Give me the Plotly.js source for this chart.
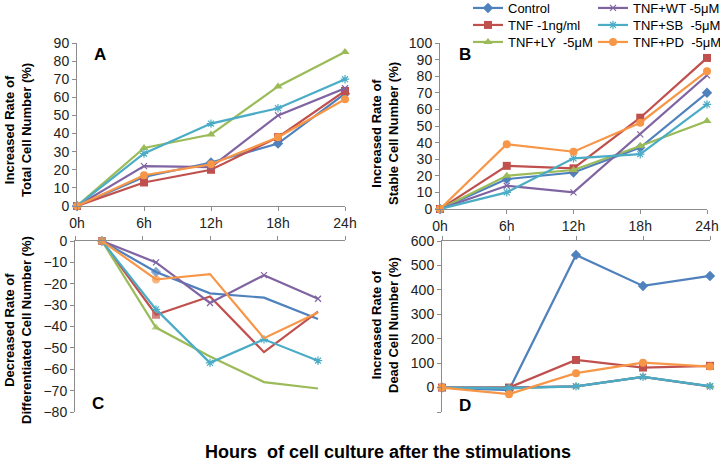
<!DOCTYPE html>
<html>
<head>
<meta charset="utf-8">
<script src="https://cdn.plot.ly/plotly-3.0.1.min.js"></script>
<style>html,body{margin:0;padding:0;background:#fff}#chart{width:720px;height:464px}</style>
</head>
<body>
<div id="chart"></div>
<script>
// ---- data ----
const hours = ['0h', '6h', '12h', '18h', '24h'];
const seriesNames = ['Control', 'TNF -1ng/ml', 'TNF+LY\u00a0\u00a0-5\u03bcM', 'TNF+WT -5\u03bcM', 'TNF+SB\u00a0\u00a0-5\u03bcM', 'TNF+PD\u00a0\u00a0-5\u03bcM'];

// A: increased rate of total cell number (%)
const totalControl = [0, 16, 24, 34.5, 62];
const totalTNF     = [0, 13, 20, 38, 63.5];
const totalLY      = [0, 32, 39.5, 66, 85];
const totalWT      = [0, 22, 21.5, 50, 65];
const totalSB      = [0, 29, 45.5, 54, 70];
const totalPD      = [0, 17, 23, 38, 59];

// B: increased rate of stable cell number (%)
const stableControl = [0, 18, 22, 37, 70];
const stableTNF     = [0, 26, 24.5, 55, 91];
const stableLY      = [0, 20, 23.5, 38, 53];
const stableWT      = [0, 14, 10, 45, 80.5];
const stableSB      = [0, 10, 30.5, 33, 63];
const stablePD      = [0, 39, 34.5, 52, 83];

// C: decreased rate of differentiated cell number (%)
const diffControl = [0, -14.5, -24.5, -26.5, -36.5];
const diffTNF     = [0, -34.5, -26, -52, -33];
const diffLY      = [0, -40.5, -54, -66, -69];
const diffWT      = [0, -10, -29, -16, -27];
const diffSB      = [0, -32, -57, -46, -56];
const diffPD      = [0, -18, -15.5, -45.5, -33.5];

// D: increased rate of dead cell number (%)
const deadControl = [0, -10, 543, 416, 457];
const deadTNF     = [0, 0, 113, 82, 89];
const deadLY      = [0, 0, 5, 44, 5];
const deadWT      = [0, 0, 5, 44, 5];
const deadSB      = [0, -3, 5, 44, 6];
const deadPD      = [0, -27, 59, 102, 86];

// ---- styles ----
const colors = ['#4F81BD', '#C0504D', '#9BBB59', '#8064A2', '#4BACC6', '#F79646'];
const symbols = ['diamond', 'square', 'triangle-up', 'x-thin', 'asterisk', 'circle'];
const sizes = [8, 8, 8, 6, 7, 8];
const legendIds = ['legend', 'legend2', 'legend3', 'legend4', 'legend5', 'legend6'];
const xi = hours.map((h, i) => i);

const panels = [
  {xa: 'x', ya: 'y', data: [totalControl, totalTNF, totalLY, totalWT, totalSB, totalPD], full: true},
  {xa: 'x2', ya: 'y2', data: [stableControl, stableTNF, stableLY, stableWT, stableSB, stablePD], full: true},
  {xa: 'x3', ya: 'y3', data: [diffControl, diffTNF, diffLY, diffWT, diffSB, diffPD], full: false},
  {xa: 'x4', ya: 'y4', data: [deadControl, deadTNF, deadLY, deadWT, deadSB, deadPD], full: true}
];

const traces = [];
panels.forEach((p, pi) => {
  p.data.forEach((vals, si) => {
    const thin = (si === 3 || si === 4);
    let msize = sizes[si];
    if (!p.full && !thin) msize = xi.map(i => (i < 2 ? sizes[si] : 0));
    traces.push({
      type: 'scatter', mode: 'lines+markers',
      x: xi, y: vals, xaxis: p.xa, yaxis: p.ya,
      name: seriesNames[si],
      legend: legendIds[si],
      showlegend: pi === 0,
      cliponaxis: false,
      line: {color: colors[si], width: 2.2},
      marker: {symbol: symbols[si], size: msize, color: colors[si],
               line: {color: colors[si], width: thin ? 1.2 : 0}}
    });
  });
});

const W = 720, H = 464;
const px = v => v / W, py = v => 1 - v / H;
const axisGray = '#8c8c8c';
const tickFont = {family: 'Liberation Sans, Arial, sans-serif', size: 14, color: '#222'};

function yax(domTop, domBot, range, tickvals, ticktext, anchor) {
  const o = {domain: [py(domBot), py(domTop)], range: range, anchor: anchor,
    showgrid: false, zeroline: false, showline: true, linecolor: axisGray, linewidth: 1,
    ticks: 'outside', ticklen: 4, tickcolor: axisGray, tickfont: tickFont,
    tickmode: 'array', tickvals: tickvals, fixedrange: true};
  if (ticktext) o.ticktext = ticktext;
  return o;
}
function xax(l, r, range, tickvals, ticktext, anchor, side) {
  return {domain: [px(l), px(r)], range: range, anchor: anchor, side: side,
    showgrid: false, zeroline: false, showline: true, linecolor: axisGray, linewidth: 1,
    ticks: 'outside', ticklen: 4, tickcolor: axisGray, tickfont: tickFont,
    tickmode: 'array', tickvals: tickvals, ticktext: ticktext,
    showticklabels: !!ticktext, fixedrange: true};
}

const tA = [0, 10, 20, 30, 40, 50, 60, 70, 80, 90];
const tB = [0, 10, 20, 30, 40, 50, 60, 70, 80, 90, 100];
const tC = [0, -10, -20, -30, -40, -50, -60, -70, -80];
const tD = [-100, 0, 100, 200, 300, 400, 500, 600];
const tDtext = tD.map(v => (v < 0 ? '' : String(v)));

const bold = {family: 'Liberation Sans, Arial, sans-serif', size: 13, color: '#000'};
function ytitle(text, xPix, yPix) {
  return {text: '<b>' + text + '</b>', xref: 'paper', yref: 'paper', x: px(xPix), y: py(yPix),
    xanchor: 'center', yanchor: 'middle', showarrow: false, textangle: -90, font: bold};
}
function letter(t, xPix, yPix) {
  return {text: '<b>' + t + '</b>', xref: 'paper', yref: 'paper', x: px(xPix), y: py(yPix),
    xanchor: 'center', yanchor: 'middle', showarrow: false,
    font: {family: 'Liberation Sans, Arial, sans-serif', size: 17, color: '#000'}};
}
function leg(xPix, yPix) {
  return {x: px(xPix), y: py(yPix), xanchor: 'left', yanchor: 'middle', bgcolor: 'rgba(0,0,0,0)',
    font: {family: 'Liberation Sans, Arial, sans-serif', size: 13, color: '#000'},
    itemwidth: 30};
}

const layout = {
  width: W, height: H,
  margin: {l: 0, r: 0, t: 0, b: 0, autoexpand: false},
  paper_bgcolor: '#fff', plot_bgcolor: 'rgba(0,0,0,0)',
  font: {family: 'Liberation Sans, Arial, sans-serif'},
  xaxis: xax(77, 345, [0, 4], xi, hours, 'y', 'bottom'),
  yaxis: yax(43, 206, [0, 90], tA, null, 'x'),
  xaxis2: xax(440, 707, [0, 4], xi, hours, 'y2', 'bottom'),
  yaxis2: yax(43, 209, [0, 100], tB, null, 'x2'),
  xaxis3: xax(75, 345, [-0.5, 4.5], [-0.5, 0.75, 2, 3.25, 4.5], null, 'y3', 'top'),
  yaxis3: yax(241, 412, [-80, 0], tC, null, 'x3'),
  xaxis4: xax(442, 710, [0, 4], xi, null, 'y4', 'top'),
  yaxis4: yax(241, 412, [-100, 600], tD, tDtext, 'x4'),
  legend: leg(468, 8),
  legend2: leg(468, 25),
  legend3: leg(468, 42),
  legend4: leg(593, 8),
  legend5: leg(593, 25),
  legend6: leg(593, 42),
  annotations: [
    ytitle('Increased Rate of<br>Total Cell Number (%)', 18, 130),
    ytitle('Increased Rate of<br>Stable Cell Number (%)', 385, 134),
    ytitle('Decreased Rate of<br>Differentiated Cell Number (%)', 18, 330),
    ytitle('Increased Rate of<br>Dead Cell Number (%)', 385, 325),
    letter('A', 100, 54), letter('B', 465, 54), letter('C', 98, 403), letter('D', 465, 405),
    {text: '<b>Hours  of cell culture after the stimulations</b>', xref: 'paper', yref: 'paper',
     x: px(388), y: py(452), xanchor: 'center', yanchor: 'middle', showarrow: false,
     font: {family: 'Liberation Sans, Arial, sans-serif', size: 18, color: '#000'}}
  ],
  showlegend: true
};

Plotly.newPlot('chart', traces, layout, {staticPlot: true, displayModeBar: false});
</script>
</body>
</html>
